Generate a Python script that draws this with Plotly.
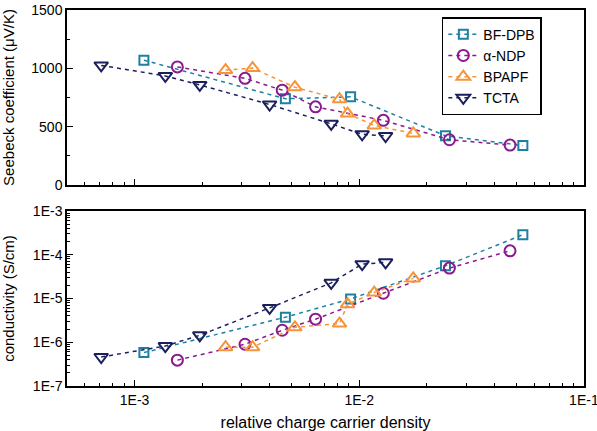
import plotly.graph_objects as go
from plotly.subplots import make_subplots

names = ["BF-DPB", "α-NDP", "BPAPF", "TCTA"]
colors = ["#1f7fa3", "#8a1a8e", "#f7943a", "#1b1f5c"]
symbols = ["square-open", "circle-open", "triangle-up-open", "triangle-down-open"]
sizes = [9, 11, 12, 12]

x_bf = [1.1e-3, 4.69e-3, 9.15e-3, 2.42e-2, 5.35e-2]
s_bf = [1070, 739, 756, 422, 339]
c_bf = [5.8e-7, 3.74e-6, 9.8e-6, 5.6e-5, 2.87e-4]

x_nd = [1.55e-3, 3.1e-3, 4.54e-3, 6.39e-3, 1.28e-2, 2.52e-2, 4.69e-2]
s_nd = [1012, 914, 813, 670, 554, 388, 342]
c_nd = [3.9e-7, 9.0e-7, 1.88e-6, 3.37e-6, 1.32e-5, 4.95e-5, 1.23e-4]

x_bp = [2.54e-3, 3.35e-3, 5.17e-3, 8.17e-3, 8.87e-3, 1.166e-2, 1.74e-2]
s_bp = [985, 1002, 838, 735, 612, 510, 442]
c_bp = [7.7e-7, 7.7e-7, 2.2e-6, 2.68e-6, 7.4e-6, 1.37e-5, 2.88e-5]

x_tc = [7.1e-4, 1.37e-3, 1.95e-3, 3.99e-3, 7.5e-3, 1.03e-2, 1.31e-2]
s_tc = [1025, 935, 858, 690, 524, 435, 420]
c_tc = [4.6e-7, 8.2e-7, 1.44e-6, 6.1e-6, 2.28e-5, 6.1e-5, 6.7e-5]

xs = [x_bf, x_nd, x_bp, x_tc]
ss = [s_bf, s_nd, s_bp, s_tc]
cs = [c_bf, c_nd, c_bp, c_tc]

x_ticks = [1e-3, 1e-2, 1e-1]
x_ticktext = ["1E-3", "1E-2", "1E-1"]
c_ticks = [1e-7, 1e-6, 1e-5, 1e-4, 1e-3]
c_ticktext = ["1E-7", "1E-6", "1E-5", "1E-4", "1E-3"]
s_ticks = [0, 500, 1000, 1500]

fig = make_subplots(rows=2, cols=1, shared_xaxes=False)

for i in range(4):
    for row, yv in ((1, ss[i]), (2, cs[i])):
        fig.add_trace(go.Scatter(
            x=xs[i], y=yv, name=names[i], mode="lines+markers",
            showlegend=(row == 1),
            line=dict(color=colors[i], width=1.5, dash="4px,4px"),
            marker=dict(symbol=symbols[i], size=sizes[i], color=colors[i],
                        line=dict(width=2, color=colors[i])),
        ), row=row, col=1)

minor_x = [m * 10 ** e for e in (-4, -3, -2) for m in range(2, 10)]
minor_x = [v for v in minor_x if 5e-4 <= v <= 1e-1]
minor_c = [m * 10 ** e for e in (-7, -6, -5, -4) for m in range(2, 10)]

axis_common = dict(showline=True, linecolor="black", linewidth=1.5, mirror=True,
                   ticks="inside", tickcolor="black", tickwidth=1, ticklen=6,
                   showgrid=False, zeroline=False, automargin=False,
                   ticklabeloverflow="allow",
                   tickfont=dict(family="Liberation Sans", size=14, color="black"))

fig.update_xaxes(type="log", range=[-3.301, -0.9995], tickvals=x_ticks, ticktext=x_ticktext,
                 minor=dict(tickvals=minor_x, ticks="inside", ticklen=3, tickcolor="black"),
                 **axis_common)
fig.update_xaxes(showticklabels=False, row=1, col=1)
fig.update_xaxes(title=dict(text="relative charge carrier density",
                            font=dict(family="Liberation Sans", size=16, color="black")),
                 row=2, col=1)

fig.update_yaxes(range=[0, 1500], tickvals=s_ticks,
                 minor=dict(dtick=250, ticks="inside", ticklen=3, tickcolor="black"),
                 title=dict(text="Seebeck coefficient (μV/K)",
                            font=dict(family="Liberation Sans", size=15, color="black")),
                 row=1, col=1, **axis_common)
fig.update_yaxes(type="log", range=[-7, -3], tickvals=c_ticks, ticktext=c_ticktext,
                 minor=dict(tickvals=minor_c, ticks="inside", ticklen=3, tickcolor="black"),
                 title=dict(text="conductivity (S/cm)",
                            font=dict(family="Liberation Sans", size=15, color="black")),
                 row=2, col=1, **axis_common)

fig.update_layout(
    width=597, height=431,
    margin=dict(l=67, r=13, t=10, b=45),
    plot_bgcolor="white", paper_bgcolor="white",
    yaxis=dict(domain=[0.5346, 1]),
    yaxis2=dict(domain=[0, 0.4654]),
    xaxis=dict(domain=[0, 1]), xaxis2=dict(domain=[0, 1]),
    legend=dict(x=0.725, y=0.981, xanchor="left", yanchor="top",
                bordercolor="black", borderwidth=1.5, bgcolor="white",
                font=dict(family="Liberation Sans", size=14, color="black"),
                tracegroupgap=0, itemwidth=30),
    showlegend=True,
)

fig.write_html("out.html", config={"displayModeBar": False},
               post_script="document.body.style.margin='0';document.body.style.overflow='hidden';")
